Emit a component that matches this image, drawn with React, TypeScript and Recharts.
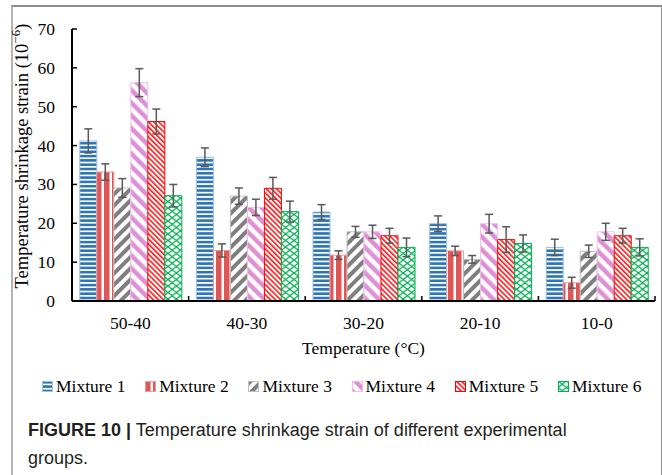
import React from 'react';
import { BarChart, Bar, XAxis, YAxis, ErrorBar } from 'recharts';

const categories = ['50-40', '40-30', '30-20', '20-10', '10-0'];
const mixture1 = [41.2, 37, 22.9, 19.9, 13.8];
const mixture2 = [33.2, 13, 11.8, 12.9, 4.7];
const mixture3 = [29.1, 27, 17.8, 10.7, 12.8];
const mixture4 = [56.2, 24.1, 17.8, 19.9, 17.8];
const mixture5 = [46.2, 29, 16.8, 15.8, 16.8];
const mixture6 = [27.1, 23, 13.8, 14.8, 13.8];
const err1 = [3.1, 2.4, 1.9, 2, 2.1];
const err2 = [2.1, 1.7, 1.1, 1.2, 1.4];
const err3 = [2.4, 2.1, 1.4, 1, 1.6];
const err4 = [3.6, 2.1, 1.7, 2.4, 2.2];
const err5 = [3.2, 2.8, 1.9, 3.3, 1.9];
const err6 = [2.9, 2.7, 2.4, 2.2, 2.2];
const yTicks = [0, 10, 20, 30, 40, 50, 60, 70];

const seriesNames = ['Mixture 1', 'Mixture 2', 'Mixture 3', 'Mixture 4', 'Mixture 5', 'Mixture 6'];
const seriesValues = [mixture1, mixture2, mixture3, mixture4, mixture5, mixture6];
const seriesErrors = [err1, err2, err3, err4, err5, err6];
const borders = ['#9DC3E6', '#EE9A9A', '#BFBFBF', '#EFBFEA', '#FF0000', '#00B050'];

const data = categories.map((name, i) => {
  const row: Record<string, string | number> = { name };
  seriesValues.forEach((vals, s) => {
    row[`m${s + 1}`] = vals[i];
    row[`e${s + 1}`] = seriesErrors[s][i];
  });
  return row;
});

const serif = '"Liberation Serif", "Times New Roman", serif';

function Patterns() {
  return (
    <defs>
      <pattern id="pat1" width="6" height="4.3" patternUnits="userSpaceOnUse">
        <rect width="6" height="4.3" fill="#fff" />
        <rect y="0" width="6" height="2.6" fill="#2E75B6" />
      </pattern>
      <pattern id="pat2" width="8" height="6" patternUnits="userSpaceOnUse">
        <rect width="8" height="6" fill="#fff" />
        <rect x="0" width="5.5" height="6" fill="#DE5656" />
      </pattern>
      <pattern id="pat3" width="8" height="8" patternUnits="userSpaceOnUse" patternTransform="rotate(45)">
        <rect width="8" height="8" fill="#fff" />
        <rect width="4" height="8" fill="#7F7F7F" />
      </pattern>
      <pattern id="pat4" width="9" height="9" patternUnits="userSpaceOnUse" patternTransform="rotate(-45)">
        <rect width="9" height="9" fill="#fff" />
        <rect width="4.5" height="9" fill="#DE8FD6" />
      </pattern>
      <pattern id="pat5" width="3.6" height="3.6" patternUnits="userSpaceOnUse" patternTransform="rotate(-45)">
        <rect width="3.6" height="3.6" fill="#fff" />
        <rect width="1.6" height="3.6" fill="#FF1A1A" />
      </pattern>
      <pattern id="pat6" width="8.4" height="13" patternUnits="userSpaceOnUse">
        <rect width="8.4" height="13" fill="#fff" />
        <path d="M0,0 L8.4,6.5 L0,13 M8.4,0 L0,6.5 L8.4,13" stroke="#00B050" strokeWidth="1.3" fill="none" />
      </pattern>
    </defs>
  );
}

function XTick(props: any) {
  const { x, y, payload, index } = props;
  const half = payload && typeof payload.offset === 'number' ? payload.offset : 58.3;
  return (
    <g>
      <line x1={x - half} x2={x - half} y1={y} y2={y - 5} stroke="#000" strokeWidth={1.5} />
      {index === categories.length - 1 && (
        <line x1={x + half} x2={x + half} y1={y} y2={y - 5} stroke="#000" strokeWidth={1.5} />
      )}
      <text x={x} y={y + 22} textAnchor="middle" dominantBaseline="central" fontFamily={serif} fontSize={17.5} fill="#000">
        {payload.value}
      </text>
    </g>
  );
}

function YTick(props: any) {
  const { x, y, payload } = props;
  return (
    <g>
      <line x1={x} x2={x + 5} y1={y} y2={y} stroke="#000" strokeWidth={1.5} />
      <text x={x - 17} y={y} textAnchor="end" dominantBaseline="central" fontFamily={serif} fontSize={17.5} fill="#000">
        {payload.value}
      </text>
    </g>
  );
}

function YTitle(props: any) {
  const vb = props.viewBox || { x: 0, y: 29, width: 72, height: 272 };
  const cx = vb.x + 22;
  const cy = vb.y + vb.height / 2 - 9;
  return (
    <text
      x={cx}
      y={cy}
      transform={`rotate(-90, ${cx}, ${cy})`}
      textAnchor="middle"
      dominantBaseline="central"
      fontFamily={serif}
      fontSize={18.5}
      fill="#000"
    >
      Temperature shrinkage strain (10
      <tspan dy={-7} fontSize={13}>−6</tspan>
      <tspan dy={7}>)</tspan>
    </text>
  );
}

function LegendRow() {
  return (
    <div style={{ position: 'absolute', left: 42, top: 376, display: 'flex', fontFamily: serif, fontSize: 17.5, color: '#000' }}>
      {seriesNames.map((n, i) => (
        <div key={n} style={{ width: 103.2, display: 'flex', alignItems: 'center', height: 20 }}>
          <svg width={11} height={11} style={{ marginRight: 3 }}>
            <rect x={0.5} y={0.5} width={10} height={10} fill={`url(#pat${i + 1})`} stroke={borders[i]} strokeWidth={1} />
          </svg>
          <span>{n}</span>
        </div>
      ))}
    </div>
  );
}

export default function App() {
  return (
    <div style={{ position: 'absolute', left: 0, top: 0, width: 662, height: 475, background: '#fff', overflow: 'hidden' }}>
      <div
        style={{
          position: 'absolute',
          left: 11,
          top: 5,
          width: 648,
          height: 480,
          borderLeft: '2px solid #b5b5b5',
          borderTop: '2px solid #8c8c8c',
          borderRight: '2px solid #8c8c8c',
        }}
      />
      <div style={{ position: 'absolute', left: 0, top: 0 }}>
        <BarChart
          width={662}
          height={340}
          data={data}
          margin={{ top: 29, right: 7, left: 0, bottom: 0 }}
          barCategoryGap="6.7%"
          barGap={0}
        >
          <Patterns />
          <XAxis
            dataKey="name"
            height={39}
            axisLine={{ stroke: '#000', strokeWidth: 2 }}
            tickLine={false}
            tickSize={0}
            tickMargin={0}
            tick={<XTick />}
            interval={0}
          />
          <YAxis
            width={72}
            domain={[0, 70]}
            ticks={yTicks}
            axisLine={{ stroke: '#000', strokeWidth: 2 }}
            tickLine={false}
            tickSize={0}
            tickMargin={0}
            tick={<YTick />}
            allowDataOverflow
            label={<YTitle />}
          />
          {seriesNames.map((n, i) => (
            <Bar
              key={n}
              dataKey={`m${i + 1}`}
              name={n}
              fill={`url(#pat${i + 1})`}
              stroke={borders[i]}
              strokeWidth={1}
              isAnimationActive={false}
            >
              <ErrorBar dataKey={`e${i + 1}`} width={4} stroke="#595959" strokeWidth={1.5} isAnimationActive={false} />
            </Bar>
          ))}
        </BarChart>
      </div>
      <div
        style={{
          position: 'absolute',
          left: 72,
          width: 583,
          top: 338,
          textAlign: 'center',
          fontFamily: serif,
          fontSize: 17.5,
          lineHeight: '20px',
          color: '#000',
        }}
      >
        Temperature (°C)
      </div>
      <LegendRow />
      <div
        style={{
          position: 'absolute',
          left: 28,
          top: 416,
          fontFamily: '"Liberation Sans", Arial, sans-serif',
          fontSize: 18,
          lineHeight: '28px',
          color: '#231f20',
        }}
      >
        <b>FIGURE 10 |</b> Temperature shrinkage strain of different experimental
        <br />
        groups.
      </div>
    </div>
  );
}
